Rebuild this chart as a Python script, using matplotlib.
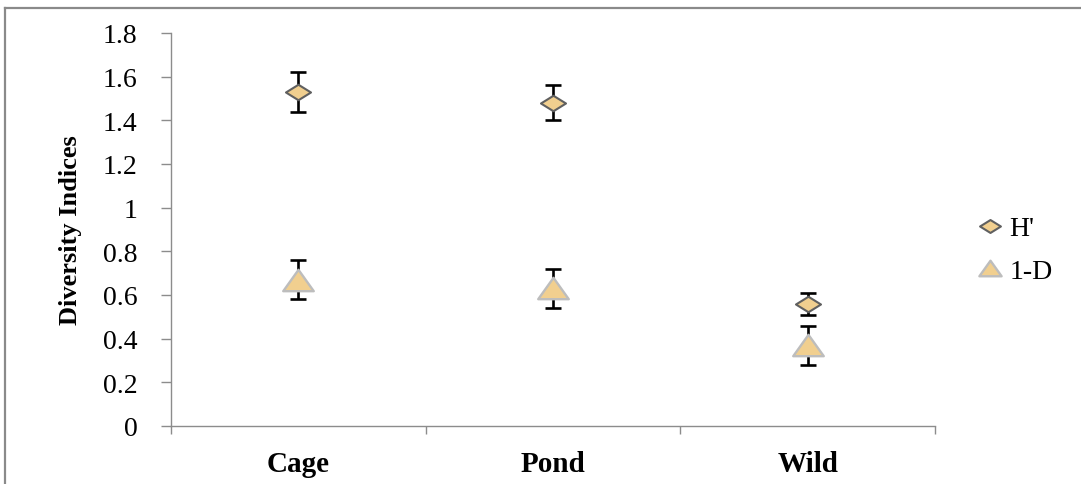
import numpy as np
import matplotlib.pyplot as plt
from matplotlib.path import Path
from matplotlib.lines import Line2D
from matplotlib.ticker import FixedLocator, FuncFormatter

plt.rcParams['font.family'] = ['Liberation Serif', 'DejaVu Serif']

sites = ['Cage', 'Pond', 'Wild']
shannon = [1.53, 1.48, 0.56]        # H'
shannon_err = [0.09, 0.08, 0.05]
simpson = [0.67, 0.63, 0.37]        # 1-D
simpson_err = [0.09, 0.09, 0.09]

fill = '#F1CF8F'

# flattened diamond and triangle markers
diamond = Path([(-1, 0), (0, 0.62), (1, 0), (0, -0.62), (-1, 0)],
               [Path.MOVETO, Path.LINETO, Path.LINETO, Path.LINETO, Path.CLOSEPOLY])
triangle = Path([(-1, -0.7), (0, 0.7), (1, -0.7), (-1, -0.7)],
                [Path.MOVETO, Path.LINETO, Path.LINETO, Path.CLOSEPOLY])

fig = plt.figure(figsize=(10.81, 4.85), dpi=100)
ax = fig.add_axes([171 / 1081, 58 / 485, 764 / 1081, 393 / 485])

x = np.arange(len(sites)) + 0.5

ax.errorbar(x, shannon, yerr=shannon_err, fmt='none', ecolor='black',
            elinewidth=1.9, capsize=5.5, capthick=1.9, zorder=2)
ax.errorbar(x, simpson, yerr=simpson_err, fmt='none', ecolor='black',
            elinewidth=1.9, capsize=5.5, capthick=1.9, zorder=2)
ax.plot(x, shannon, linestyle='none', marker=diamond, markersize=18,
        markerfacecolor=fill, markeredgecolor='#606060', markeredgewidth=1.5, zorder=3)
ax.plot(x, simpson, linestyle='none', marker=triangle, markersize=22,
        markerfacecolor=fill, markeredgecolor='#BDBDBD', markeredgewidth=1.7, zorder=3)

ax.set_xlim(0, 3)
ax.set_ylim(0, 1.8)

for side in ['top', 'right']:
    ax.spines[side].set_visible(False)
for side in ['left', 'bottom']:
    ax.spines[side].set_color('#8C8C8C')
    ax.spines[side].set_linewidth(1.0)

ax.set_yticks(np.arange(0, 1.81, 0.2))
ax.yaxis.set_major_formatter(FuncFormatter(lambda v, p: f'{v:g}'))
ax.tick_params(axis='y', direction='out', length=7, width=1.0, color='#8C8C8C',
               labelsize=20, pad=17)

ax.xaxis.set_major_locator(FixedLocator([0, 1, 2, 3]))
ax.xaxis.set_minor_locator(FixedLocator(x))
ax.xaxis.set_major_formatter(FuncFormatter(lambda v, p: ''))
ax.set_xticks(x, sites, minor=True)
ax.tick_params(axis='x', which='major', direction='out', length=6, width=1.0,
               color='#8C8C8C')
ax.tick_params(axis='x', which='minor', length=0, labelsize=21, pad=17)
for lbl in ax.get_xticklabels(minor=True):
    lbl.set_fontweight('bold')

ax.set_ylabel('Diversity Indices', fontsize=19, fontweight='bold')
ax.yaxis.set_label_coords(-0.116, 0.5)

handles = [
    Line2D([], [], linestyle='none', marker=diamond, markersize=15,
           markerfacecolor=fill, markeredgecolor='#606060', markeredgewidth=1.5),
    Line2D([], [], linestyle='none', marker=triangle, markersize=16,
           markerfacecolor=fill, markeredgecolor='#BDBDBD', markeredgewidth=1.7),
]
fig.legend(handles, ["H'", '1-D'], loc='center left',
           bbox_to_anchor=(962 / 1081, 1 - 251 / 485), frameon=False,
           fontsize=20, handlelength=1.0, handletextpad=0.2, labelspacing=0.62,
           borderpad=0)

# outer frame (left and top edges)
fig.add_artist(Line2D([5 / 1081, 5 / 1081], [0, 1 - 9 / 485], color='#8A8A8A',
                      linewidth=1.6, transform=fig.transFigure))
fig.add_artist(Line2D([5 / 1081, 1], [1 - 9 / 485, 1 - 9 / 485], color='#8A8A8A',
                      linewidth=1.6, transform=fig.transFigure))

fig.savefig('out.png', dpi=100)
plt.close(fig)
